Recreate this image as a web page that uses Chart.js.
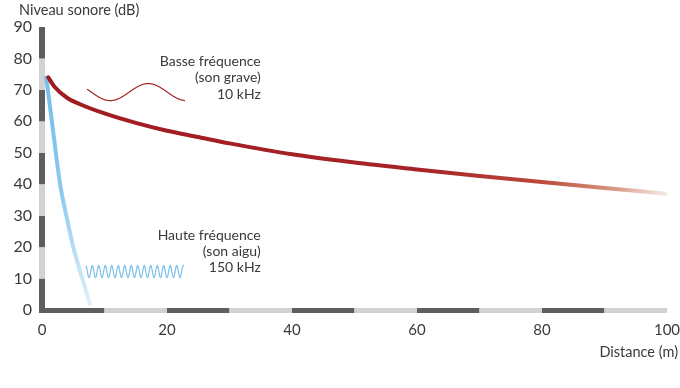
<!DOCTYPE html>
<html>
<head>
<meta charset="utf-8">
<script src="https://cdn.jsdelivr.net/npm/chart.js@4/dist/chart.umd.min.js"></script>
<style>
  html, body { margin: 0; padding: 0; background: #fff; }
  #wrap { width: 680px; height: 388px; position: relative; }
</style>
</head>
<body>
<div id="wrap"><canvas id="chart"></canvas></div>
<script>
// sound level vs distance, low and high frequency
const distBasse = [1, 2, 4, 6, 10, 15, 20, 25, 30, 40, 50, 60, 70, 80, 90, 100];
const niveauBasse = [74, 71, 67.5, 65.5, 62.5, 59.5, 57, 55, 53, 49.5, 46.9, 44.7, 42.6, 40.7, 38.8, 37];
const distHaute = [0.65, 1.8, 2.9, 4.0, 5.0, 6.0, 6.9, 7.7];
const niveauHaute = [74.5, 56.5, 40, 29, 20, 13, 7, 1.5];

const yTicks = [0, 10, 20, 30, 40, 50, 60, 70, 80, 90];
const xTicks = [0, 20, 40, 60, 80, 100];

const FONT = 'Lato, "Open Sans", sans-serif';
const TXT = '#3a3a3a';

const toPoints = (xs, ys) => xs.map((x, i) => ({ x, y: ys[i] }));

function redGradient(context) {
  const chart = context.chart;
  if (!chart.chartArea) return '#a31f24';
  const xs = chart.scales.x;
  const g = chart.ctx.createLinearGradient(xs.getPixelForValue(0), 0, xs.getPixelForValue(100), 0);
  g.addColorStop(0, '#a11b21');
  g.addColorStop(0.6, '#a52326');
  g.addColorStop(0.8, '#bb4a3b');
  g.addColorStop(0.92, '#d99a85');
  g.addColorStop(1, 'rgba(240,215,205,0.6)');
  return g;
}

function blueGradient(context) {
  const chart = context.chart;
  if (!chart.chartArea) return '#7cc0ec';
  const ys = chart.scales.y;
  const g = chart.ctx.createLinearGradient(0, ys.getPixelForValue(75), 0, ys.getPixelForValue(0));
  g.addColorStop(0, '#74bdeb');
  g.addColorStop(0.5, '#8cc9ef');
  g.addColorStop(1, '#e2f1fb');
  return g;
}

// striped axes + labels + little wave glyphs
const decor = {
  id: 'decor',
  beforeDatasetsDraw(chart) {
    const { ctx, scales: { x, y } } = chart;
    const x0 = x.getPixelForValue(0), y0 = y.getPixelForValue(0);
    ctx.save();
    for (let v = 0; v < 90; v += 10) {
      ctx.fillStyle = (v / 10) % 2 === 0 ? '#5e5e5e' : '#d2d2d2';
      const top = y.getPixelForValue(v + 10), bot = y.getPixelForValue(v);
      ctx.fillRect(x0 - 3, top, 6, bot - top);
    }
    for (let v = 0; v < 100; v += 10) {
      ctx.fillStyle = (v / 10) % 2 === 0 ? '#5e5e5e' : '#d2d2d2';
      const l = x.getPixelForValue(v), r = x.getPixelForValue(v + 10);
      ctx.fillRect(l, y0 - 2, r - l, 5);
    }
    ctx.fillStyle = '#5e5e5e';
    ctx.fillRect(x0 - 3, y0 - 2, 6, 5);
    ctx.restore();
  },
  afterDatasetsDraw(chart) {
    const { ctx, scales: { x, y } } = chart;
    ctx.save();

    // wave glyphs
    const wave = (fromV, toV, midV, amp, period, phasePx, color) => {
      const a = x.getPixelForValue(fromV), b = x.getPixelForValue(toV);
      const mid = y.getPixelForValue(midV);
      ctx.beginPath();
      for (let px = a; px <= b; px += 0.5) {
        const yy = mid - amp * Math.cos(2 * Math.PI * (px - phasePx) / period);
        if (px === a) ctx.moveTo(px, yy); else ctx.lineTo(px, yy);
      }
      ctx.strokeStyle = color;
      ctx.lineWidth = 1.2;
      ctx.stroke();
    };
    wave(7.2, 22.9, 69.3, 8.5, 76, x.getPixelForValue(17), '#a52326');
    wave(7.0, 22.7, 12.2, 6, 6.5, x.getPixelForValue(7.0), '#7cc0ec');

    // annotation text
    ctx.fillStyle = TXT;
    ctx.font = '14px ' + FONT;
    ctx.textAlign = 'right';
    ctx.textBaseline = 'middle';
    const rx = x.getPixelForValue(35);
    ['Basse fréquence', '(son grave)', '10 kHz'].forEach((t, i) => {
      ctx.fillText(t, rx, 61 + i * 16.5);
    });
    ['Haute fréquence', '(son aigu)', '150 kHz'].forEach((t, i) => {
      ctx.fillText(t, rx, 235 + i * 16);
    });

    // axis titles
    ctx.font = '14.5px ' + FONT;
    ctx.textAlign = 'left';
    ctx.fillText('Niveau sonore (dB)', 19, 10);
    ctx.textAlign = 'right';
    ctx.fillText('Distance (m)', 678, 352);
    ctx.restore();
  }
};

new Chart(document.getElementById('chart'), {
  type: 'scatter',
  data: {
    datasets: [
      {
        label: 'Basse fréquence',
        data: toPoints(distBasse, niveauBasse),
        showLine: true,
        borderColor: redGradient,
        borderWidth: 4,
        pointRadius: 0,
        cubicInterpolationMode: 'monotone',
        borderCapStyle: 'round'
      },
      {
        label: 'Haute fréquence',
        data: toPoints(distHaute, niveauHaute),
        showLine: true,
        borderColor: blueGradient,
        borderWidth: 4,
        pointRadius: 0,
        cubicInterpolationMode: 'monotone'
      }
    ]
  },
  options: {
    responsive: true,
    maintainAspectRatio: false,
    animation: false,
    layout: { padding: { top: 27, right: 13, left: 0, bottom: 0 } },
    plugins: {
      legend: { display: false },
      tooltip: { enabled: false }
    },
    scales: {
      x: {
        type: 'linear',
        min: 0,
        max: 100,
        grid: { display: false, drawTicks: false },
        border: { display: false },
        afterBuildTicks: s => { s.ticks = xTicks.map(v => ({ value: v })); },
        afterFit: s => { s.height = 78; s.paddingLeft = 0; s.paddingRight = 0; },
        ticks: { color: TXT, font: { family: FONT, size: 15 }, padding: 11, maxRotation: 0 }
      },
      y: {
        min: 0,
        max: 90,
        grid: { display: false, drawTicks: false },
        border: { display: false },
        afterBuildTicks: s => { s.ticks = yTicks.map(v => ({ value: v })); },
        afterFit: s => { s.width = 42; },
        ticks: { color: TXT, font: { family: FONT, size: 16 }, padding: 10 }
      }
    }
  },
  plugins: [decor]
});
</script>
</body>
</html>
